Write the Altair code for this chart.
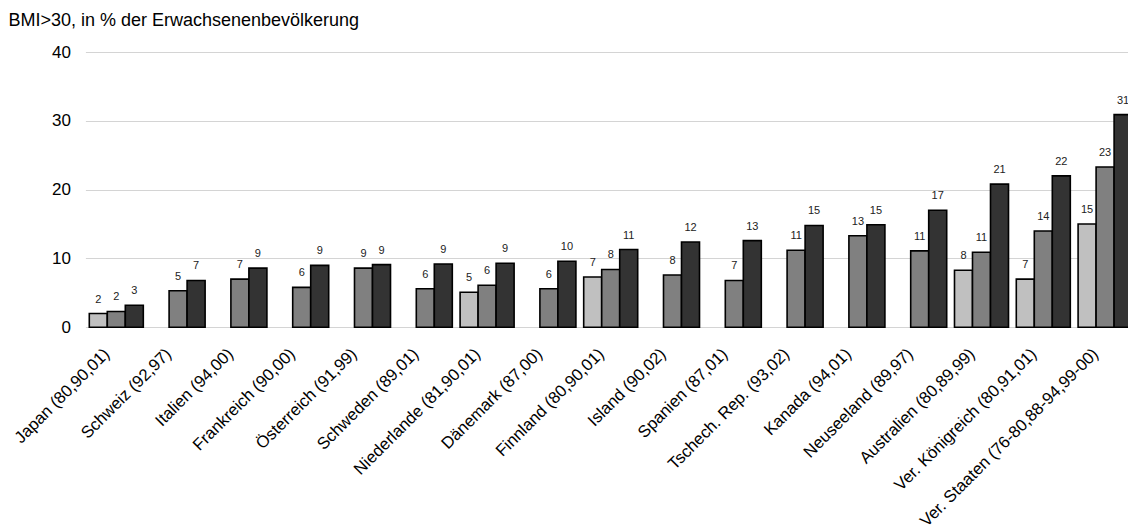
import altair as alt
import pandas as pd

# Adipositas (BMI>30) in % der Erwachsenenbevölkerung, je Land bis zu drei Erhebungsjahre
laender = [
    "Japan (80,90,01)",
    "Schweiz (92,97)",
    "Italien (94,00)",
    "Frankreich (90,00)",
    "Österreich (91,99)",
    "Schweden (89,01)",
    "Niederlande (81,90,01)",
    "Dänemark (87,00)",
    "Finnland (80,90,01)",
    "Island (90,02)",
    "Spanien (87,01)",
    "Tschech. Rep. (93,02)",
    "Kanada (94,01)",
    "Neuseeland (89,97)",
    "Australien (80,89,99)",
    "Ver. Königreich (80,91,01)",
    "Ver. Staaten (76-80,88-94,99-00)",
]

erste_erhebung = [2.0, None, None, None, None, None, 5.1, None, 7.3, None, None, None, None, None, 8.3, 7.0, 15.0]
mittlere_erhebung = [2.3, 5.3, 7.0, 5.8, 8.6, 5.6, 6.1, 5.6, 8.4, 7.6, 6.8, 11.2, 13.3, 11.1, 10.9, 14.0, 23.3]
letzte_erhebung = [3.2, 6.8, 8.6, 9.0, 9.1, 9.2, 9.3, 9.6, 11.3, 12.4, 12.6, 14.8, 14.9, 17.0, 20.8, 22.0, 30.9]

reihen = ["erste Erhebung", "mittlere Erhebung", "letzte Erhebung"]
farben = ["#c0c0c0", "#808080", "#333333"]

zeilen = []
for reihe, werte in zip(reihen, [erste_erhebung, mittlere_erhebung, letzte_erhebung]):
    for land, wert in zip(laender, werte):
        if wert is not None:
            zeilen.append({"land": land, "reihe": reihe, "wert": wert})
df = pd.DataFrame(zeilen)

FONT = "Liberation Sans"

base = alt.Chart(df).encode(
    x=alt.X(
        "land:N",
        sort=laender,
        title=None,
        scale=alt.Scale(range=[0, 1050.6], paddingInner=0.126, paddingOuter=0.063),
        axis=alt.Axis(
            labelAngle=-45,
            labelAlign="right",
            labelBaseline="top",
            labelFontSize=16.7,
            labelFont=FONT,
            labelColor="#000000",
            labelPadding=18,
            labelOffset=-15,
            labelLimit=400,
            ticks=False,
            domain=False,
            grid=False,
        ),
    ),
    xOffset=alt.XOffset(
        "reihe:N",
        sort=reihen,
        scale=alt.Scale(domain=reihen, paddingInner=0, paddingOuter=0),
    ),
    y=alt.Y(
        "wert:Q",
        title=None,
        scale=alt.Scale(domain=[0, 40], nice=False),
        axis=alt.Axis(
            values=[0, 10, 20, 30, 40],
            labelFontSize=17,
            labelFont=FONT,
            labelColor="#000000",
            labelPadding=15,
            ticks=False,
            domain=False,
            grid=True,
            gridColor="#d4d4d4",
            gridWidth=1,
        ),
    ),
)

balken = base.mark_bar(stroke="#000000", strokeWidth=1.6).encode(
    color=alt.Color("reihe:N", scale=alt.Scale(domain=reihen, range=farben), legend=None)
)

beschriftung = base.mark_text(
    baseline="alphabetic", dy=-11, fontSize=11, font=FONT, color="#222222"
).encode(text=alt.Text("wert:Q", format=".0f"))

chart = (
    alt.layer(balken, beschriftung)
    .properties(
        width=1042.6,
        height=275.3,
        autosize=alt.AutoSizeParams(type="none"),
        padding={"left": 85.4, "top": 52, "right": 0, "bottom": 201.7},
        title=alt.TitleParams(
            "BMI>30, in % der Erwachsenenbevölkerung",
            anchor="start",
            frame="group",
            fontSize=18,
            font=FONT,
            fontWeight="normal",
            color="#000000",
            dx=-77,
            offset=13,
        ),
    )
    .configure_view(stroke=None)
)

chart.save("out.html", embed_options={"renderer": "svg", "actions": False})
